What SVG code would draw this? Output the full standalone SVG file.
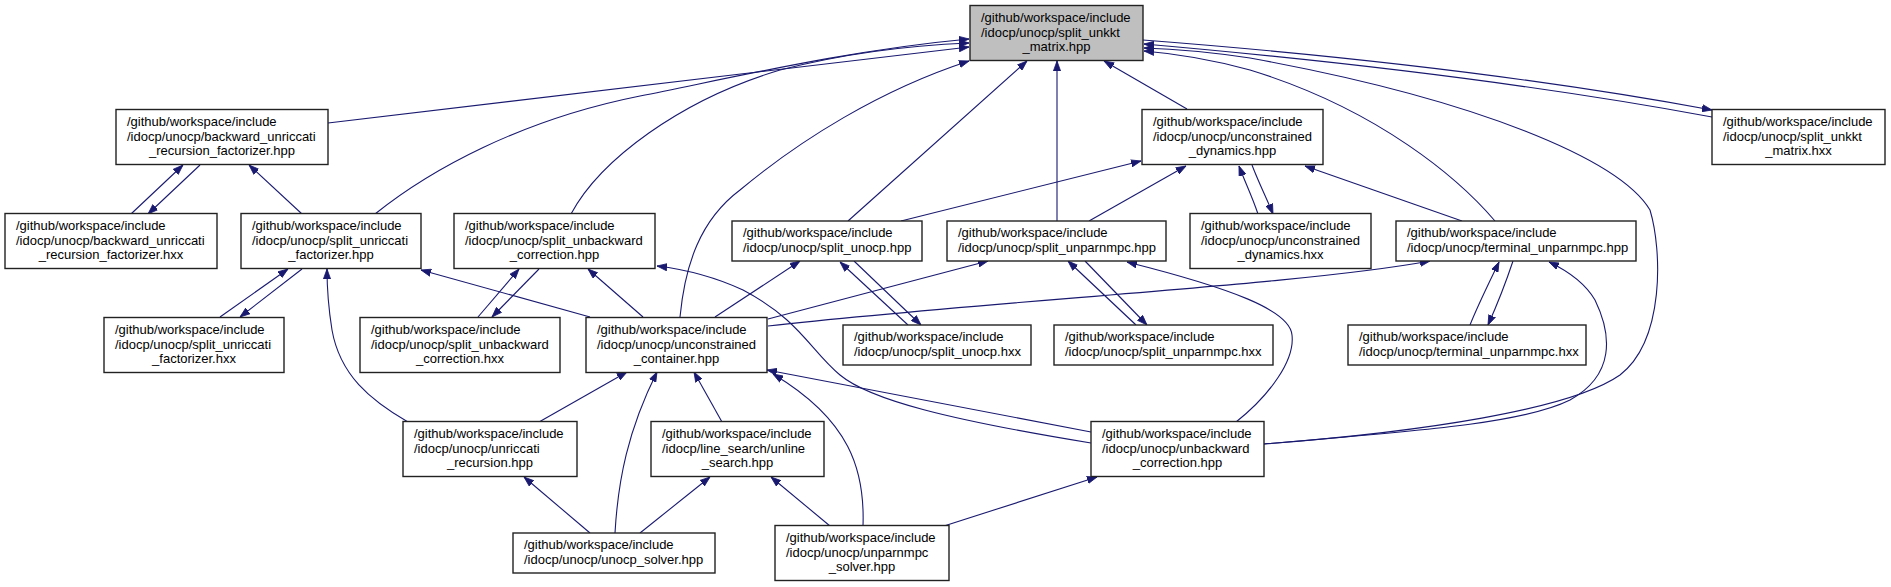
<svg xmlns="http://www.w3.org/2000/svg" width="1891" height="587" viewBox="0 0 1891 587">
<style>
.node rect{fill:#fff;stroke:#222;stroke-width:1.4}
.node.root rect{fill:#bfbfbf}
.node text{font-family:"Liberation Sans",Arial,Helvetica,sans-serif;font-size:13px;fill:#000}
.node text.c{text-anchor:middle}
.edges path{fill:none;stroke:#191970;stroke-width:1.1;marker-end:url(#ah)}
</style>
<defs>
<marker id="ah" markerUnits="userSpaceOnUse" markerWidth="10" markerHeight="8" refX="10" refY="4" orient="auto" viewBox="0 0 10 8">
<path d="M0,0.4 L10,4 L0,7.6 z" fill="#191970" stroke="#191970" stroke-width="0.8"/>
</marker>
</defs>
<rect width="1891" height="587" fill="#fff"/>
<g class="edges">
<path d="M328,123 L969,47"/>
<path d="M375,214 C430,170 520,120 640,96 C740,76 850,50 969,39"/>
<path d="M571,214 C600,160 680,100 780,70 C850,52 920,45 969,43"/>
<path d="M680,317 C685,265 700,220 740,190 C800,140 880,90 969,61"/>
<path d="M848,221 L1027,61"/>
<path d="M1057,221 L1057,61"/>
<path d="M1187,109 L1104,61"/>
<path d="M1143,40 C1350,56 1550,80 1712,110"/>
<path d="M1712,117 C1550,87 1350,62 1144,44"/>
<path d="M1495,221 C1460,180 1380,110 1250,70 C1210,59 1180,54 1144,51"/>
<path d="M1264,444 C1420,432 1570,410 1620,375 C1665,340 1662,250 1650,210 C1620,160 1480,100 1250,58 C1210,52 1175,49 1144,48"/>
<path d="M1462,221 L1305,166"/>
<path d="M901,221 L1141,161"/>
<path d="M1089,221 L1186,166"/>
<path d="M1258,214 C1252,196 1245,182 1239,166"/>
<path d="M1252,165 C1258,181 1266,197 1273,214"/>
<path d="M131,214 L183,165"/>
<path d="M200,165 L148,214"/>
<path d="M302,214 L249,165"/>
<path d="M220,317 L288,269"/>
<path d="M302,269 L240,317"/>
<path d="M408,422 C370,400 340,375 332,330 C328,305 327,290 327,269"/>
<path d="M478,317 L519,269"/>
<path d="M539,269 L492,317"/>
<path d="M643,317 L588,269"/>
<path d="M590,317 L421,270"/>
<path d="M539,422 L627,372"/>
<path d="M615,533 C618,480 628,430 657,372"/>
<path d="M722,422 L694,372"/>
<path d="M863,526 C865,470 850,420 773,374"/>
<path d="M1091,432 L767,370"/>
<path d="M1091,443 C950,420 870,400 840,375 C810,350 800,320 743,290 C715,277 690,270 657,266"/>
<path d="M1236,422 C1270,395 1295,360 1292,335 C1290,310 1230,288 1127,262"/>
<path d="M1264,444 C1400,432 1520,425 1570,400 C1615,375 1612,335 1595,300 C1585,283 1570,272 1549,262"/>
<path d="M944,526 L1097,477"/>
<path d="M640,533 L710,477"/>
<path d="M590,533 L524,477"/>
<path d="M830,526 L771,477"/>
<path d="M908,325 L840,262"/>
<path d="M854,261 L921,325"/>
<path d="M1136,325 L1068,261"/>
<path d="M1085,261 L1147,325"/>
<path d="M1470,325 C1478,305 1488,285 1499,262"/>
<path d="M1513,261 C1505,285 1497,305 1488,325"/>
<path d="M715,317 L800,261"/>
<path d="M768,319 L988,261"/>
<path d="M768,326 C1000,300 1300,285 1430,261"/>
</g>
<g id="n0" class="node root"><rect x="970" y="5.5" width="173" height="55"/><text x="981" y="22">/github/workspace/include</text><text x="981" y="36.5">/idocp/unocp/split_unkkt</text><text class="c" x="1056.5" y="51">_matrix.hpp</text></g>
<g id="n1" class="node"><rect x="116" y="109.5" width="212" height="55"/><text x="127" y="126">/github/workspace/include</text><text x="127" y="140.5">/idocp/unocp/backward_unriccati</text><text class="c" x="222" y="155">_recursion_factorizer.hpp</text></g>
<g id="n2" class="node"><rect x="1142" y="109.5" width="181" height="55"/><text x="1153" y="126">/github/workspace/include</text><text x="1153" y="140.5">/idocp/unocp/unconstrained</text><text class="c" x="1232.5" y="155">_dynamics.hpp</text></g>
<g id="n3" class="node"><rect x="1712" y="109.5" width="173" height="55"/><text x="1723" y="126">/github/workspace/include</text><text x="1723" y="140.5">/idocp/unocp/split_unkkt</text><text class="c" x="1798.5" y="155">_matrix.hxx</text></g>
<g id="n4" class="node"><rect x="5" y="213.5" width="212" height="55"/><text x="16" y="230">/github/workspace/include</text><text x="16" y="244.5">/idocp/unocp/backward_unriccati</text><text class="c" x="111" y="259">_recursion_factorizer.hxx</text></g>
<g id="n5" class="node"><rect x="241" y="213.5" width="180" height="55"/><text x="252" y="230">/github/workspace/include</text><text x="252" y="244.5">/idocp/unocp/split_unriccati</text><text class="c" x="331" y="259">_factorizer.hpp</text></g>
<g id="n6" class="node"><rect x="454" y="213.5" width="201" height="55"/><text x="465" y="230">/github/workspace/include</text><text x="465" y="244.5">/idocp/unocp/split_unbackward</text><text class="c" x="554.5" y="259">_correction.hpp</text></g>
<g id="n7" class="node"><rect x="732" y="221" width="190" height="40"/><text x="743" y="237.25">/github/workspace/include</text><text x="743" y="251.75">/idocp/unocp/split_unocp.hpp</text></g>
<g id="n8" class="node"><rect x="947" y="221" width="219" height="40"/><text x="958" y="237.25">/github/workspace/include</text><text x="958" y="251.75">/idocp/unocp/split_unparnmpc.hpp</text></g>
<g id="n9" class="node"><rect x="1190" y="213.5" width="181" height="55"/><text x="1201" y="230">/github/workspace/include</text><text x="1201" y="244.5">/idocp/unocp/unconstrained</text><text class="c" x="1280.5" y="259">_dynamics.hxx</text></g>
<g id="n10" class="node"><rect x="1396" y="221" width="240" height="40"/><text x="1407" y="237.25">/github/workspace/include</text><text x="1407" y="251.75">/idocp/unocp/terminal_unparnmpc.hpp</text></g>
<g id="n11" class="node"><rect x="104" y="317.5" width="180" height="55"/><text x="115" y="334">/github/workspace/include</text><text x="115" y="348.5">/idocp/unocp/split_unriccati</text><text class="c" x="194" y="363">_factorizer.hxx</text></g>
<g id="n12" class="node"><rect x="360" y="317.5" width="200" height="55"/><text x="371" y="334">/github/workspace/include</text><text x="371" y="348.5">/idocp/unocp/split_unbackward</text><text class="c" x="460" y="363">_correction.hxx</text></g>
<g id="n13" class="node"><rect x="586" y="317.5" width="181" height="55"/><text x="597" y="334">/github/workspace/include</text><text x="597" y="348.5">/idocp/unocp/unconstrained</text><text class="c" x="676.5" y="363">_container.hpp</text></g>
<g id="n14" class="node"><rect x="843" y="325" width="188" height="40"/><text x="854" y="341.25">/github/workspace/include</text><text x="854" y="355.75">/idocp/unocp/split_unocp.hxx</text></g>
<g id="n15" class="node"><rect x="1054" y="325" width="219" height="40"/><text x="1065" y="341.25">/github/workspace/include</text><text x="1065" y="355.75">/idocp/unocp/split_unparnmpc.hxx</text></g>
<g id="n16" class="node"><rect x="1348" y="325" width="238" height="40"/><text x="1359" y="341.25">/github/workspace/include</text><text x="1359" y="355.75">/idocp/unocp/terminal_unparnmpc.hxx</text></g>
<g id="n17" class="node"><rect x="403" y="421.5" width="174" height="55"/><text x="414" y="438">/github/workspace/include</text><text x="414" y="452.5">/idocp/unocp/unriccati</text><text class="c" x="490" y="467">_recursion.hpp</text></g>
<g id="n18" class="node"><rect x="651" y="421.5" width="173" height="55"/><text x="662" y="438">/github/workspace/include</text><text x="662" y="452.5">/idocp/line_search/unline</text><text class="c" x="737.5" y="467">_search.hpp</text></g>
<g id="n19" class="node"><rect x="1091" y="421.5" width="173" height="55"/><text x="1102" y="438">/github/workspace/include</text><text x="1102" y="452.5">/idocp/unocp/unbackward</text><text class="c" x="1177.5" y="467">_correction.hpp</text></g>
<g id="n20" class="node"><rect x="513" y="533" width="202" height="40"/><text x="524" y="549.25">/github/workspace/include</text><text x="524" y="563.75">/idocp/unocp/unocp_solver.hpp</text></g>
<g id="n21" class="node"><rect x="775" y="525.5" width="174" height="55"/><text x="786" y="542">/github/workspace/include</text><text x="786" y="556.5">/idocp/unocp/unparnmpc</text><text class="c" x="862" y="571">_solver.hpp</text></g>
</svg>
